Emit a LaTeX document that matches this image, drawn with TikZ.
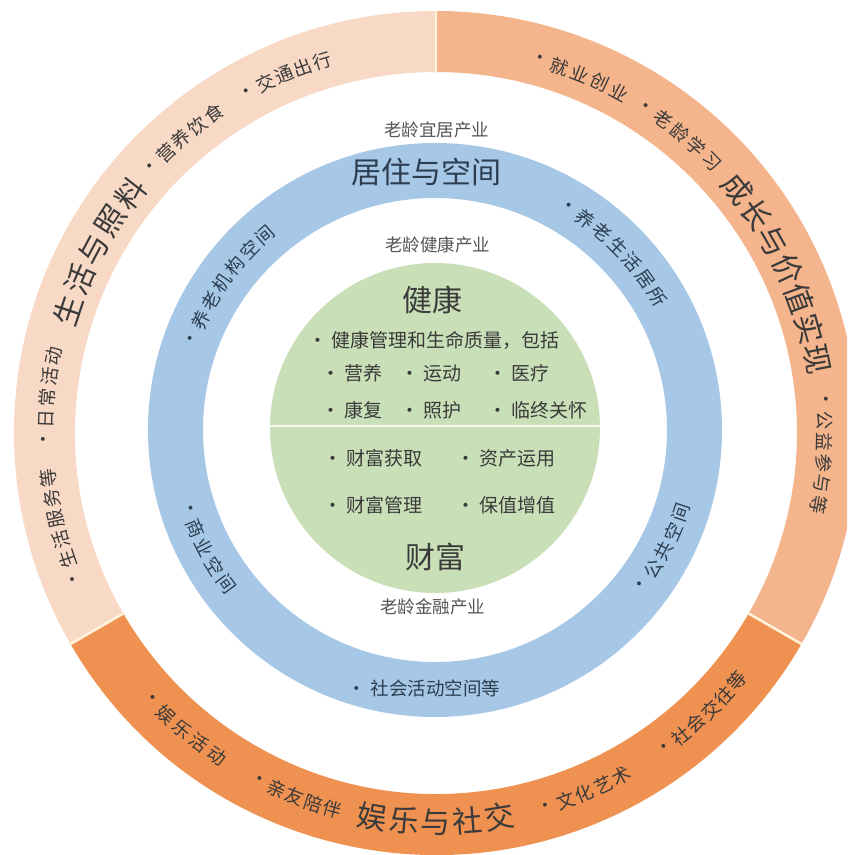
\documentclass[tikz,border=0pt]{standalone}
\usepackage{fontspec}
\newfontfamily\cjk{Noto Sans CJK SC}
\definecolor{cPink}{HTML}{F8D9C6}
\definecolor{cSalmon}{HTML}{F4B48C}
\definecolor{cOrange}{HTML}{EF9150}
\definecolor{cBlue}{HTML}{A7C7E7}
\definecolor{cGreen}{HTML}{C8DFB8}
\definecolor{cSep}{HTML}{FFF3DC}
\definecolor{cText}{HTML}{3A3A3A}
\definecolor{cGray}{HTML}{555555}
\definecolor{cNavy}{HTML}{2C3E50}
\newcommand\arctextcw[6]{\foreach \letr [count=\i] in {#6}{\pgfmathsetmacro\ang{#3-(\i-1)*#4}\node[#5, rotate=\ang-90] (#1-\i) at (\ang:#2) {\letr};}}
\newcommand\arctextccw[6]{\foreach \letr [count=\i] in {#6}{\pgfmathsetmacro\ang{#3+(\i-1)*#4}\node[#5, rotate=\ang+90] (#1-\i) at (\ang:#2) {\letr};}}
\begin{document}
\begin{tikzpicture}[x=1pt,y=1pt,
  every node/.style={inner sep=0pt},
  ringsm/.style={font=\cjk\fontsize{18.5}{21}\selectfont, text=cText},
  ringbig/.style={font=\cjk\fontsize{30}{34}\selectfont, text=cText},
  bluesm/.style={font=\cjk\fontsize{18.5}{21}\selectfont, text=cNavy},
  bluebig/.style={font=\cjk\fontsize{30}{34}\selectfont, text=cNavy},
  inner/.style={font=\cjk\fontsize{19}{22}\selectfont, text=cText},
  innerbig/.style={font=\cjk\fontsize{30}{34}\selectfont, text=cText},
  industry/.style={font=\cjk\fontsize{17.5}{20}\selectfont, text=cGray},
  sepline/.style={draw=cSep, line width=2.5pt}]
\useasboundingbox (-435,-425) rectangle (412,430);
\clip (-435,-425) rectangle (412,430);
\fill[white] (-435,-425) rectangle (412,430);
% outer ring
\begin{scope}[shift={(1,-3)}]
\fill[cPink] (90:422) arc[start angle=90,end angle=210,radius=422] -- (210:361) arc[start angle=210,end angle=90,radius=361] -- cycle;
\fill[cSalmon] (-30:422) arc[start angle=-30,end angle=90,radius=422] -- (90:361) arc[start angle=90,end angle=-30,radius=361] -- cycle;
\fill[cOrange] (210:422) arc[start angle=210,end angle=330,radius=422] -- (330:361) arc[start angle=330,end angle=210,radius=361] -- cycle;
\coordinate (s1a) at (90:360); \coordinate (s1b) at (90:423);
\coordinate (s2a) at (210:360); \coordinate (s2b) at (210:423);
\coordinate (s3a) at (-30:360); \coordinate (s3b) at (-30:423);
\draw[sepline] (s1a) -- (s1b);
\draw[sepline] (s2a) -- (s2b);
\draw[sepline] (s3a) -- (s3b);
% outer ring texts
\arctextcw{jt}{389}{119}{3.0}{ringsm}{·,交,通,出,行}
\arctextcw{yy}{389}{137}{3.05}{ringsm}{·,营,养,饮,食}
\arctextcw{shzl}{388}{161.6}{4.9}{ringbig}{生,活,与,照,料}
\arctextcw{rc}{390}{181}{3.1}{ringsm}{·,日,常,活,动}
\arctextcw{shfw}{390}{202}{3.08}{ringsm}{·,生,活,服,务,等}
\arctextcw{jy}{387}{74.5}{3.17}{ringsm}{·,就,业,创,业}
\arctextcw{lx}{387}{57.3}{3.2}{ringsm}{·,老,龄,学,习}
\arctextcw{czjz}{388}{39}{4.67}{ringbig}{成,长,与,价,值,实,现}
\arctextcw{gy}{389}{4.9}{3.1}{ringsm}{·,公,益,参,与,等}
\arctextccw{yl}{390}{223}{3.2}{ringsm}{·,娱,乐,活,动}
\arctextccw{qy}{390}{243}{2.9}{ringsm}{·,亲,友,陪,伴}
\arctextccw{ylsj}{389}{260.6}{4.7}{ringbig}{娱,乐,与,社,交}
\arctextccw{wh}{390}{286.4}{3.0}{ringsm}{·,文,化,艺,术}
\arctextccw{sj}{390}{306}{2.92}{ringsm}{·,社,会,交,往,等}
\end{scope}
% blue ring
\fill[cBlue, even odd rule] (0,0) circle[radius=287] (0,0) circle[radius=232];
\arctextcw{jg}{259}{159.6}{4.75}{bluesm}{·,养,老,机,构,空,间}
\arctextcw{js}{259}{59.2}{4.7}{bluesm}{·,养,老,生,活,居,所}
\arctextccw{sy}{259}{197.7}{4.67}{bluesm}{·,商,业,空,间}
\arctextccw{gg}{259}{323}{4.6}{bluesm}{·,公,共,空,间}
\node[bluesm] (shhd) at (-11,-258) {· 社会活动空间等};
\node[bluebig] (jzkj) at (-8,258) {居住与空间};
% industry labels
\node[industry] (yj) at (2,300) {老龄宜居产业};
\node[industry] (jk) at (3,185) {老龄健康产业};
\node[industry] (jr) at (-2,-177) {老龄金融产业};
% green circle
\fill[cGreen] (0,2) circle[radius=165];
\coordinate (dl) at (-165,4); \coordinate (dr) at (165,4);
\draw[draw=white!80!cGreen, line width=2.5pt] (dl) -- (dr);
\node[innerbig] (health) at (-2,130) {健康};
\node[innerbig] (wealth) at (1,-127) {财富};
\node[inner, anchor=west] (h0) at (-127,90) {· 健康管理和生命质量，包括};
\node[inner, anchor=west] (h1) at (-114,57) {· 营养};
\node[inner, anchor=west] (h2) at (-35,57) {· 运动};
\node[inner, anchor=west] (h3) at (53,57) {· 医疗};
\node[inner, anchor=west] (h4) at (-114,20) {· 康复};
\node[inner, anchor=west] (h5) at (-35,20) {· 照护};
\node[inner, anchor=west] (h6) at (53,20) {· 临终关怀};
\node[inner, anchor=west] (w1) at (-112,-28) {· 财富获取};
\node[inner, anchor=west] (w2) at (21,-28) {· 资产运用};
\node[inner, anchor=west] (w3) at (-112,-75) {· 财富管理};
\node[inner, anchor=west] (w4) at (21,-75) {· 保值增值};
\end{tikzpicture}
\end{document}
